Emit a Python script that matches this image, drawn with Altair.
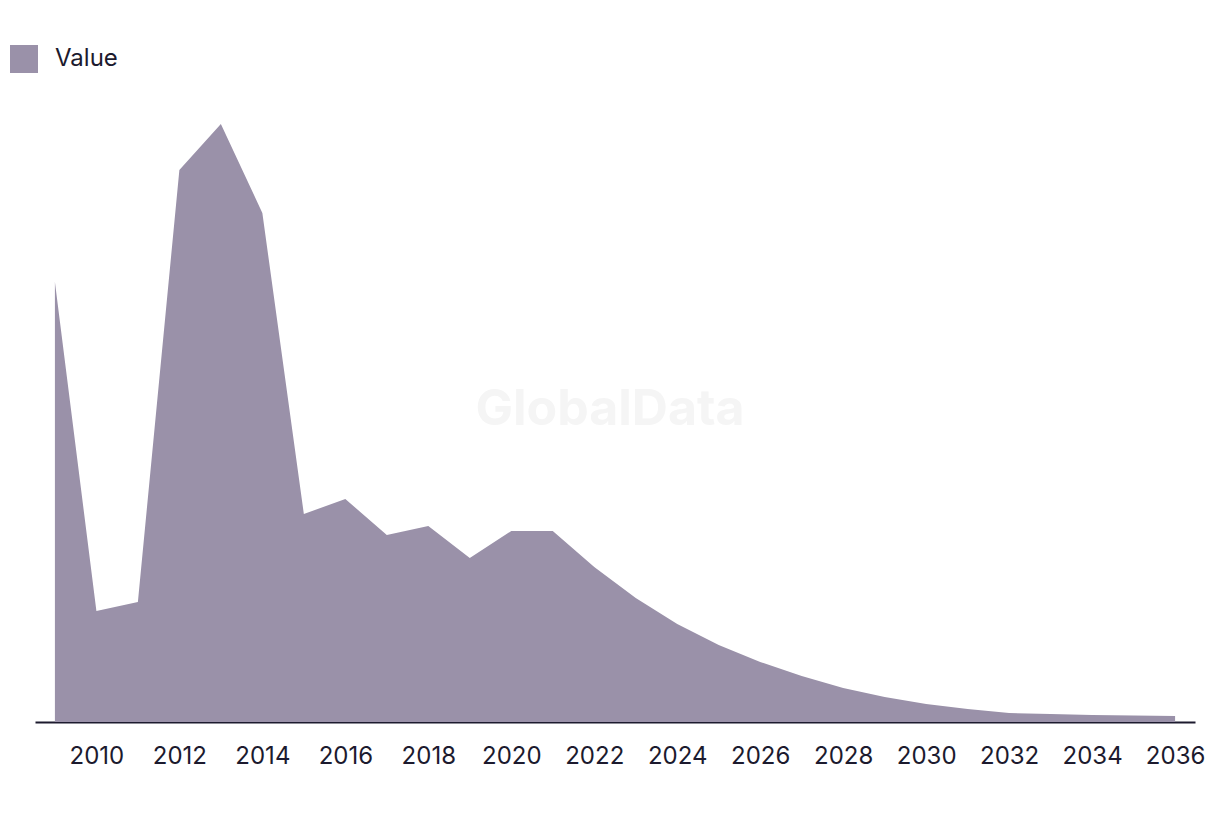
import altair as alt
import pandas as pd

years = list(range(2009, 2037))
values = [440, 111, 120, 552, 598, 509, 208, 223, 187, 196, 164, 191, 191, 155,
          124, 98, 77, 60, 46, 34, 25, 18, 13, 9, 8, 7, 6.5, 6]
series = ["Value"] * len(years)
tick_years = list(range(2010, 2037, 2))

df = pd.DataFrame({"year": years, "value": values, "series": series})

FONT = "Inter"
DARK = "#1c1a2e"

area = alt.Chart(df).mark_area(interpolate="linear").encode(
    x=alt.X("year:Q",
            scale=alt.Scale(domain=[2008.52, 2036.48], nice=False, zero=False),
            axis=alt.Axis(values=tick_years, format="d", title=None, grid=False,
                          ticks=False, domainColor=DARK, domainWidth=2,
                          labelFontSize=24, labelColor=DARK, labelFont=FONT,
                          labelPadding=22, labelFlush=False)),
    y=alt.Y("value:Q", scale=alt.Scale(domain=[0, 622], nice=False),
            axis=None),
    color=alt.Color("series:N",
                    scale=alt.Scale(domain=["Value"], range=["#9a91a9"]),
                    legend=alt.Legend(title=None, orient="none",
                                      legendX=-25, legendY=-55,
                                      symbolType="square", symbolSize=784,
                                      symbolStrokeWidth=0, symbolOpacity=1,
                                      labelFontSize=24, labelColor=DARK,
                                      labelFont=FONT, labelOffset=17)),
)

watermark = alt.Chart(pd.DataFrame({"t": ["GlobalData"]})).mark_text(
    font=FONT, fontSize=50, fontWeight="bold", color="#f5f5f5",
    align="center", baseline="middle"
).encode(text="t:N", x=alt.value(575), y=alt.value(310))

chart = alt.layer(watermark, area).properties(
    width=1160, height=622,
    padding={"left": 27, "top": 92, "right": 17, "bottom": 70},
    autosize=alt.AutoSizeParams(type="none"),
).configure(font=FONT).configure_view(stroke=None, strokeWidth=0)

chart.save("out.html", embed_options={"renderer": "svg", "actions": False})
